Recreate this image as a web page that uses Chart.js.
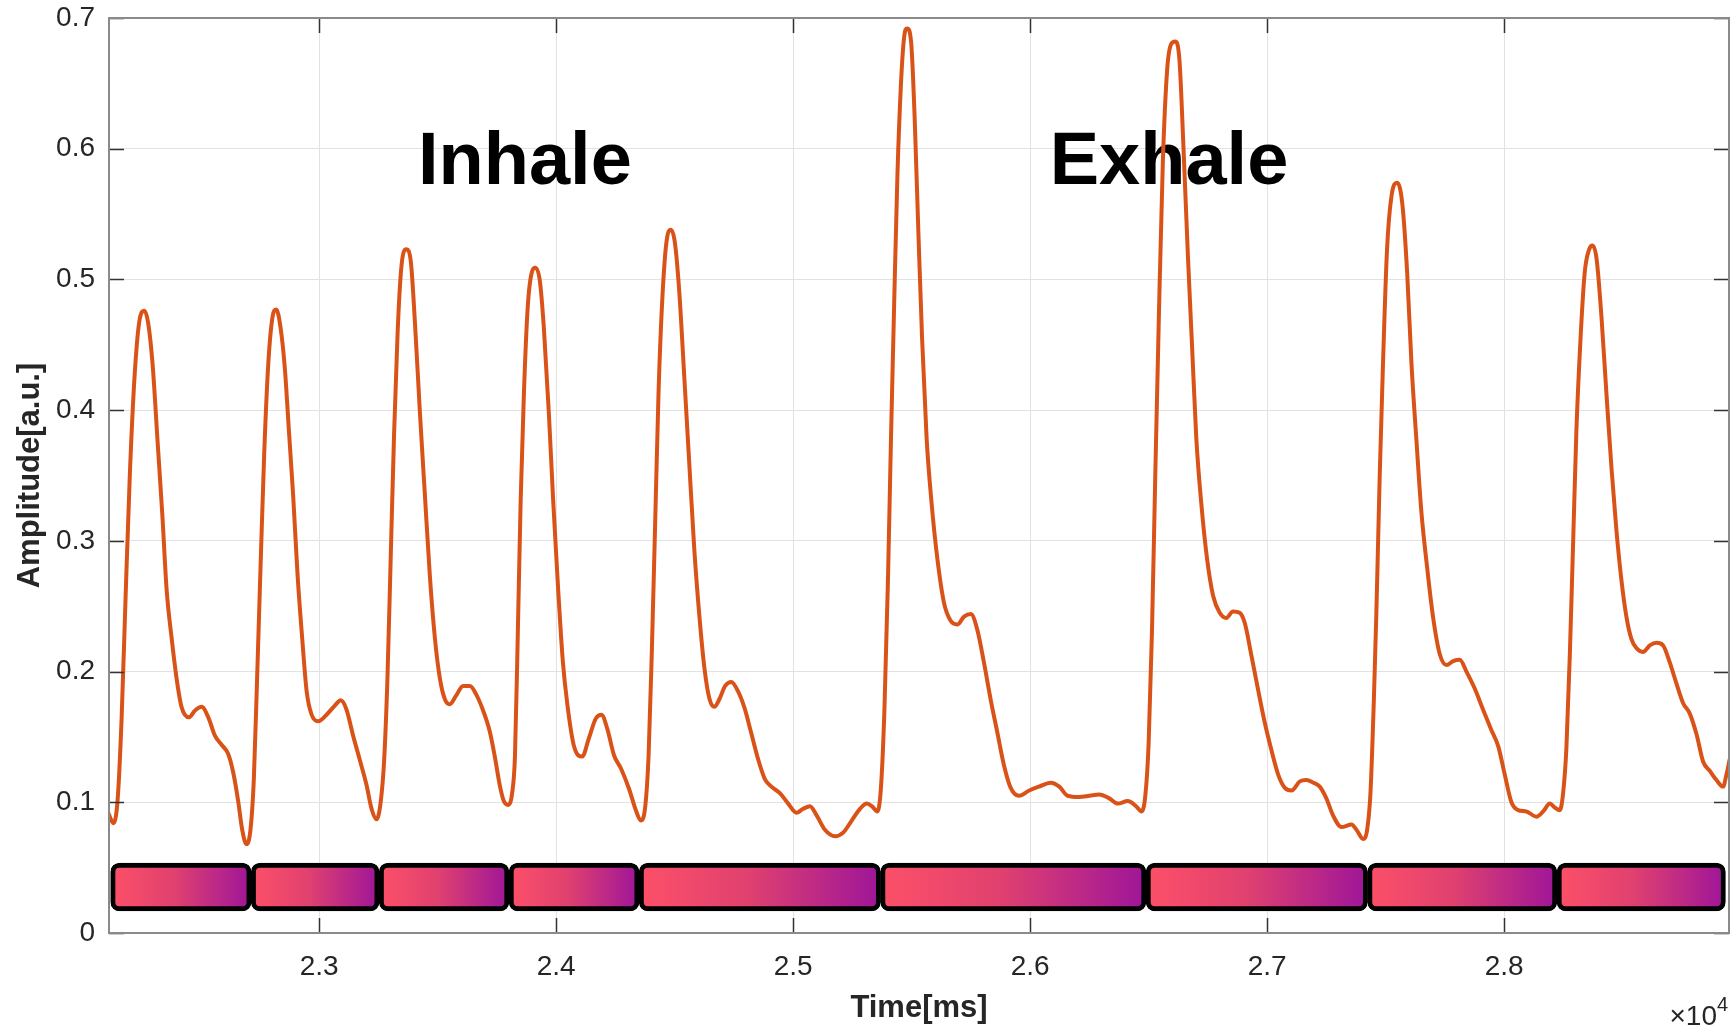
<!DOCTYPE html>
<html>
<head>
<meta charset="utf-8">
<script src="https://cdn.jsdelivr.net/npm/chart.js@4.4.1/dist/chart.umd.min.js"></script>
<style>
  html, body { margin: 0; padding: 0; background: #fff; }
  #wrap { width: 1731px; height: 1030px; }
</style>
</head>
<body>
<div id="wrap"><canvas id="chart" width="1731" height="1030"></canvas></div>
<script>
// ── data ────────────────────────────────────────────────────
const timeMs = [
  22110, 22131, 22149, 22166, 22183, 22201, 22222, 22243, 22262, 22278, 22297, 22318, 22338, 22356, 22377, 22398,
  22419, 22450, 22475, 22504, 22532, 22560, 22588, 22616, 22637, 22658, 22675, 22693, 22710, 22724, 22738, 22754,
  22768, 22785, 22802, 22819, 22837, 22855, 22873, 22890, 22909, 22928, 22947, 22968, 22996, 23031, 23066, 23091,
  23115, 23143, 23172, 23200, 23221, 23242, 23260, 23274, 23288, 23302, 23316, 23331, 23347, 23368, 23387, 23404,
  23425, 23446, 23467, 23488, 23509, 23530, 23551, 23579, 23607, 23636, 23664, 23692, 23720, 23741, 23762, 23779,
  23797, 23814, 23826, 23837, 23850, 23864, 23880, 23898, 23912, 23931, 23948, 23969, 23987, 24007, 24028, 24047,
  24075, 24110, 24138, 24167, 24191, 24216, 24244, 24273, 24308, 24336, 24357, 24376, 24390, 24404, 24418, 24432,
  24449, 24468, 24484, 24501, 24520, 24541, 24562, 24583, 24605, 24626, 24647, 24668, 24689, 24713, 24739, 24767,
  24795, 24823, 24852, 24880, 24908, 24944, 24979, 25014, 25042, 25071, 25099, 25134, 25177, 25212, 25247, 25282,
  25311, 25332, 25355, 25370, 25385, 25400, 25413, 25426, 25440, 25455, 25468, 25481, 25498, 25513, 25528, 25544,
  25563, 25584, 25608, 25636, 25664, 25693, 25721, 25750, 25777, 25805, 25834, 25862, 25890, 25918, 25953, 25996,
  26038, 26087, 26123, 26158, 26207, 26250, 26292, 26334, 26370, 26412, 26447, 26470, 26486, 26500, 26514, 26528,
  26543, 26560, 26578, 26595, 26612, 26630, 26647, 26666, 26684, 26701, 26722, 26746, 26772, 26800, 26828, 26856,
  26884, 26906, 26934, 26962, 26990, 27018, 27047, 27075, 27103, 27138, 27166, 27195, 27222, 27250, 27278, 27314,
  27356, 27377, 27405, 27422, 27436, 27450, 27461, 27475, 27489, 27506, 27525, 27549, 27571, 27591, 27609, 27630,
  27651, 27675, 27700, 27729, 27757, 27785, 27813, 27841, 27876, 27911, 27947, 27975, 28003, 28031, 28059, 28094,
  28136, 28165, 28193, 28214, 28235, 28249, 28263, 28277, 28291, 28305, 28322, 28340, 28359, 28373, 28390, 28411,
  28432, 28453, 28474, 28495, 28516, 28537, 28558, 28586, 28615, 28643, 28671, 28699, 28727, 28755, 28783, 28812,
  28840, 28868, 28896, 28924, 28938, 28952
];
const amplitude = [
  0.092, 0.084, 0.101, 0.163, 0.257, 0.351, 0.429, 0.470, 0.476, 0.467, 0.435, 0.376, 0.320, 0.263, 0.226, 0.195,
  0.173, 0.165, 0.170, 0.173, 0.165, 0.151, 0.144, 0.137, 0.123, 0.101, 0.079, 0.068, 0.079, 0.117, 0.195, 0.289,
  0.367, 0.435, 0.470, 0.477, 0.463, 0.432, 0.382, 0.335, 0.273, 0.226, 0.185, 0.167, 0.162, 0.167, 0.174, 0.178,
  0.171, 0.151, 0.132, 0.113, 0.095, 0.087, 0.101, 0.132, 0.195, 0.289, 0.382, 0.460, 0.510, 0.523, 0.513, 0.467,
  0.398, 0.335, 0.273, 0.226, 0.195, 0.179, 0.175, 0.182, 0.189, 0.189, 0.182, 0.170, 0.154, 0.135, 0.113, 0.101,
  0.098, 0.107, 0.135, 0.220, 0.330, 0.414, 0.479, 0.506, 0.509, 0.499, 0.463, 0.398, 0.332, 0.267, 0.208, 0.175,
  0.143, 0.135, 0.149, 0.164, 0.167, 0.156, 0.136, 0.126, 0.110, 0.094, 0.086, 0.097, 0.136, 0.218, 0.316, 0.414,
  0.489, 0.532, 0.538, 0.528, 0.489, 0.424, 0.358, 0.293, 0.241, 0.202, 0.179, 0.173, 0.179, 0.189, 0.192, 0.185,
  0.172, 0.153, 0.133, 0.118, 0.112, 0.107, 0.099, 0.092, 0.095, 0.097, 0.090, 0.079, 0.074, 0.077, 0.086, 0.095,
  0.099, 0.097, 0.093, 0.110, 0.170, 0.270, 0.380, 0.480, 0.580, 0.650, 0.685, 0.692, 0.681, 0.622, 0.538, 0.455,
  0.379, 0.329, 0.287, 0.253, 0.239, 0.236, 0.242, 0.244, 0.232, 0.207, 0.178, 0.153, 0.128, 0.111, 0.105, 0.109,
  0.112, 0.115, 0.112, 0.105, 0.104, 0.105, 0.106, 0.103, 0.099, 0.101, 0.097, 0.093, 0.105, 0.145, 0.230, 0.350,
  0.470, 0.590, 0.660, 0.680, 0.682, 0.668, 0.601, 0.517, 0.446, 0.379, 0.329, 0.287, 0.258, 0.245, 0.241, 0.246,
  0.245, 0.237, 0.212, 0.186, 0.161, 0.140, 0.121, 0.111, 0.109, 0.116, 0.117, 0.115, 0.112, 0.103, 0.090, 0.081,
  0.083, 0.079, 0.072, 0.079, 0.107, 0.176, 0.245, 0.349, 0.436, 0.523, 0.564, 0.574, 0.557, 0.505, 0.436, 0.377,
  0.322, 0.280, 0.242, 0.213, 0.205, 0.208, 0.209, 0.200, 0.187, 0.171, 0.155, 0.143, 0.121, 0.100, 0.094, 0.093,
  0.089, 0.093, 0.099, 0.096, 0.094, 0.107, 0.142, 0.211, 0.297, 0.384, 0.453, 0.505, 0.523, 0.526, 0.516, 0.471,
  0.412, 0.356, 0.308, 0.270, 0.242, 0.225, 0.218, 0.215, 0.220, 0.222, 0.220, 0.207, 0.191, 0.176, 0.168, 0.152,
  0.131, 0.124, 0.117, 0.112, 0.121, 0.133
];

// breath-cycle segments drawn in the strip under the signal
const phaseStart = [22120, 22713, 23253, 23801, 24350, 25369, 26489, 27424, 28223];
const phaseEnd   = [22713, 23253, 23801, 24350, 25369, 26489, 27424, 28223, 28934];
const phaseLevel = 0.0352;

const phaseLabels   = ['Inhale', 'Exhale'];
const phaseLabelT   = [23868, 26586];
const phaseLabelAmp = [0.573, 0.573];

const xTicks      = [23000, 24000, 25000, 26000, 27000, 28000];
const xTickLabels = ['2.3', '2.4', '2.5', '2.6', '2.7', '2.8'];
const yTicks      = [0, 0.1, 0.2, 0.3, 0.4, 0.5, 0.6, 0.7];
const yTickLabels = ['0', '0.1', '0.2', '0.3', '0.4', '0.5', '0.6', '0.7'];

const FONT = "'Liberation Sans', Arial, Helvetica, sans-serif";
const TEXT = '#262626';

// ── plugins ─────────────────────────────────────────────────
const phaseText = {
  id: 'phaseText',
  beforeDatasetsDraw(chart) {
    const { ctx, scales: { x, y } } = chart;
    ctx.save();
    ctx.fillStyle = '#000';
    ctx.font = `bold 74px ${FONT}`;
    ctx.textAlign = 'center';
    ctx.textBaseline = 'alphabetic';
    phaseLabels.forEach((txt, i) => {
      ctx.fillText(txt, x.getPixelForValue(phaseLabelT[i]), y.getPixelForValue(phaseLabelAmp[i]));
    });
    ctx.restore();
  }
};

const axesBox = {
  id: 'axesBox',
  afterDatasetsDraw(chart) {
    const { ctx, chartArea: { left, right, top, bottom }, scales: { x, y } } = chart;
    const len = 15;
    ctx.save();
    ctx.strokeStyle = '#333';
    ctx.lineWidth = 1.5;
    ctx.beginPath();
    xTicks.forEach(v => {
      const px = Math.round(x.getPixelForValue(v)) + 0.5;
      ctx.moveTo(px, bottom); ctx.lineTo(px, bottom - len);
      ctx.moveTo(px, top); ctx.lineTo(px, top + len);
    });
    yTicks.forEach(v => {
      const py = Math.round(y.getPixelForValue(v)) + 0.5;
      ctx.moveTo(left, py); ctx.lineTo(left + len, py);
      ctx.moveTo(right, py); ctx.lineTo(right - len, py);
    });
    ctx.stroke();
    ctx.strokeStyle = '#8a8a8a';
    ctx.lineWidth = 2;
    ctx.strokeRect(left, top, right - left, bottom - top);
    ctx.restore();
  },
  afterDraw(chart) {
    const { ctx, chartArea: { right } } = chart;
    ctx.save();
    ctx.fillStyle = TEXT;
    ctx.textAlign = 'right';
    ctx.textBaseline = 'alphabetic';
    ctx.font = `20px ${FONT}`;
    ctx.fillText('4', right - 1, 1011);
    ctx.font = `28px ${FONT}`;
    ctx.fillText('\u00d710', right - 12, 1025);
    ctx.restore();
  }
};

function phaseGradient(c) {
  const chart = c.chart;
  const x = chart.scales.x;
  if (!x || c.type !== 'data') return '#e0406f';
  const i = c.dataIndex;
  const x0 = x.getPixelForValue(phaseStart[i]);
  const x1 = x.getPixelForValue(phaseEnd[i]);
  if (!isFinite(x0) || !isFinite(x1) || x0 === x1) return '#e0406f';
  const g = chart.ctx.createLinearGradient(x0, 0, x1, 0);
  g.addColorStop(0, '#fd5068');
  g.addColorStop(0.45, '#e0416f');
  g.addColorStop(1, '#9e1599');
  return g;
}

// keep the plot box where the figure has it: no extra room for edge labels
function noEdgePadding(s) {
  s.paddingTop = 0; s.paddingBottom = 0;
  s.paddingLeft = 0; s.paddingRight = 0;
}

new Chart(document.getElementById('chart'), {
  type: 'line',
  data: {
    datasets: [
      {
        type: 'line',
        label: 'Amplitude',
        data: timeMs.map((t, i) => ({ x: t, y: amplitude[i] })),
        borderColor: '#D95319',
        borderWidth: 4,
        pointRadius: 0,
        cubicInterpolationMode: 'monotone',
        fill: false,
        order: 1,
      },
      {
        type: 'bar',
        label: 'Phase',
        indexAxis: 'y',
        data: phaseStart.map((s, i) => ({ x: [s, phaseEnd[i]], y: phaseLevel })),
        backgroundColor: phaseGradient,
        borderColor: '#000',
        borderWidth: 5,
        borderRadius: 9,
        borderSkipped: false,
        barThickness: 48,
        order: 2,
      },
    ],
  },
  options: {
    responsive: false,
    animation: false,
    devicePixelRatio: 1,
    layout: { padding: { top: 18, right: 2, left: 0, bottom: 0 } },
    plugins: {
      legend: { display: false },
      tooltip: { enabled: false },
    },
    scales: {
      x: {
        type: 'linear',
        min: 22113,
        max: 28949,
        offset: false,
        afterBuildTicks: s => { s.ticks = xTicks.map(v => ({ value: v })); },
        afterFit: s => { s.height = 97; noEdgePadding(s); },
        ticks: {
          callback: (v, i) => xTickLabels[i],
          padding: 17,
          maxRotation: 0,
          autoSkip: false,
          color: TEXT,
          font: { family: FONT, size: 28 },
        },
        grid: { color: '#e2e2e2', lineWidth: 1, drawTicks: false, offset: false },
        border: { display: false },
        title: {
          display: true,
          text: 'Time[ms]',
          color: TEXT,
          font: { family: FONT, size: 31, weight: 'bold' },
          padding: { top: 0, bottom: 3 },
        },
      },
      y: {
        type: 'linear',
        min: 0,
        max: 0.7,
        offset: false,
        afterBuildTicks: s => { s.ticks = yTicks.map(v => ({ value: v })); },
        afterFit: s => { s.width = 109; noEdgePadding(s); },
        ticks: {
          callback: (v, i) => yTickLabels[i],
          padding: 14,
          autoSkip: false,
          color: TEXT,
          font: { family: FONT, size: 28 },
        },
        grid: { color: '#e2e2e2', lineWidth: 1, drawTicks: false, offset: false },
        border: { display: false },
        title: {
          display: true,
          text: 'Amplitude[a.u.]',
          color: TEXT,
          font: { family: FONT, size: 31, weight: 'bold' },
          padding: { top: 12, bottom: 0 },
        },
      },
    },
  },
  plugins: [phaseText, axesBox],
});
</script>
</body>
</html>
